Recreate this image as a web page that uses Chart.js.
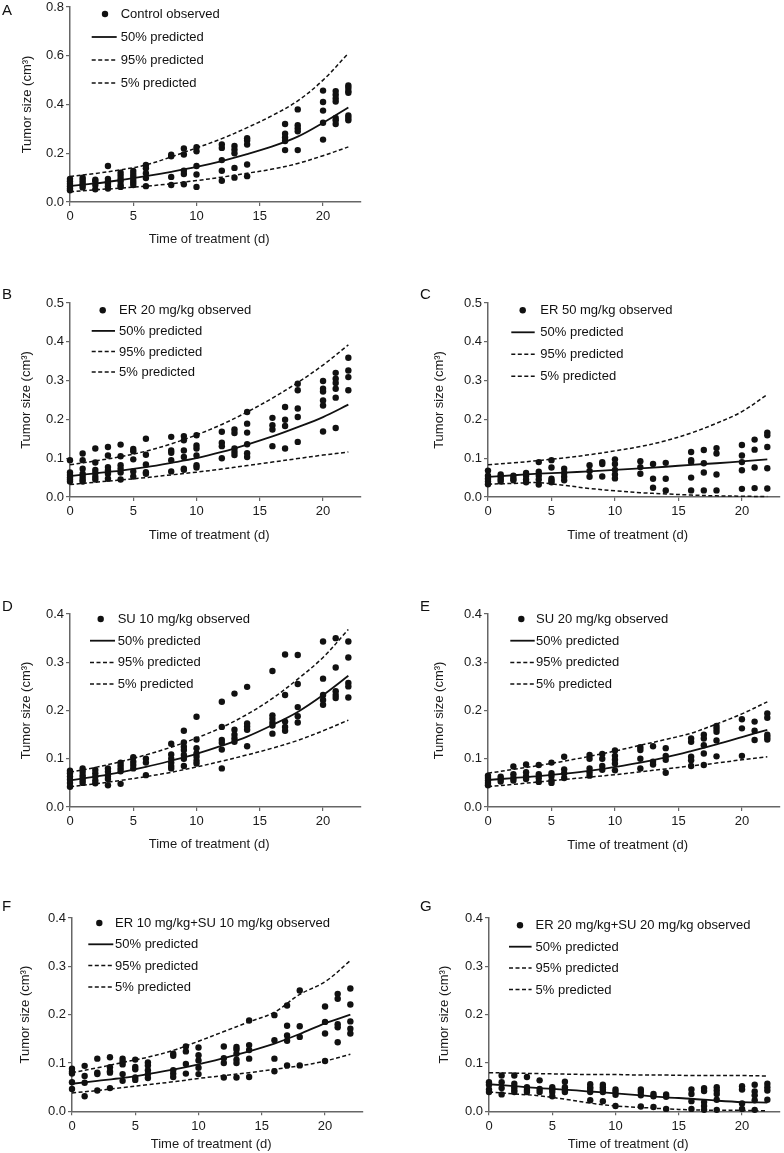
<!DOCTYPE html>
<html lang="en">
<head>
<meta charset="UTF-8">
<title>Tumor size vs time of treatment</title>
<style>
  body { margin: 0; background: #fff; }
  #page { position: relative; width: 784px; height: 1153px; overflow: hidden; background: #fff; }
  #page canvas { position: absolute; }
  .letter { position: absolute; font: 15px 'Liberation Sans', Arial, sans-serif; line-height: 15px; color: #111; }
</style>
</head>
<body>
<div id="page"></div>

<script src="https://cdn.jsdelivr.net/npm/chart.js@4.4.1/dist/chart.umd.min.js"></script>
<script>
// ---- data ----
const dayTicks = [0, 5, 10, 15, 20];
const lineDays = [0, 2, 4, 6, 8, 10, 12, 14, 16, 18, 20, 22];

// A - control
const obsDaysA = [0, 1, 2, 3, 4, 5, 6, 8, 9, 10, 12, 13, 14, 17, 18, 20, 21, 22];
const obsA = [
  [0.095, 0.085, 0.075, 0.065, 0.055, 0.048],
  [0.1, 0.09, 0.08, 0.07, 0.06],
  [0.092, 0.085, 0.07, 0.052],
  [0.148, 0.095, 0.085, 0.075, 0.065, 0.055],
  [0.12, 0.108, 0.095, 0.085, 0.07, 0.062],
  [0.127, 0.115, 0.104, 0.09, 0.08, 0.07],
  [0.152, 0.138, 0.118, 0.098, 0.065],
  [0.194, 0.188, 0.103, 0.07],
  [0.22, 0.195, 0.128, 0.115, 0.073],
  [0.225, 0.208, 0.148, 0.113, 0.062],
  [0.236, 0.222, 0.172, 0.128, 0.087],
  [0.23, 0.215, 0.2, 0.14, 0.1],
  [0.262, 0.252, 0.236, 0.154, 0.106],
  [0.32, 0.28, 0.265, 0.25, 0.213],
  [0.38, 0.315, 0.303, 0.29, 0.213],
  [0.457, 0.41, 0.375, 0.325, 0.256],
  [0.455, 0.44, 0.425, 0.412, 0.345, 0.335, 0.32],
  [0.478, 0.468, 0.455, 0.448, 0.355, 0.345, 0.335]
];
const p50A = [0.066, 0.076, 0.09, 0.106, 0.124, 0.144, 0.168, 0.196, 0.228, 0.268, 0.325, 0.388];
const p95A = [0.105, 0.117, 0.132, 0.152, 0.185, 0.222, 0.26, 0.305, 0.355, 0.415, 0.5, 0.61];
const p05A = [0.042, 0.05, 0.057, 0.065, 0.075, 0.088, 0.102, 0.118, 0.135, 0.158, 0.19, 0.226];

// days used by panels B-G
const obsDays = [0, 1, 2, 3, 4, 5, 6, 8, 9, 10, 12, 13, 14, 16, 17, 18, 20, 21, 22];

// B - ER 20 mg/kg
const obsB = [
  [0.095, 0.063, 0.057, 0.05, 0.045, 0.04],
  [0.112, 0.095, 0.073, 0.06, 0.052, 0.045, 0.04],
  [0.125, 0.089, 0.07, 0.062, 0.052, 0.045],
  [0.129, 0.107, 0.077, 0.069, 0.06, 0.047],
  [0.135, 0.105, 0.082, 0.073, 0.063, 0.045],
  [0.124, 0.118, 0.097, 0.066, 0.053],
  [0.15, 0.109, 0.084, 0.064, 0.06],
  [0.155, 0.12, 0.114, 0.095, 0.066],
  [0.157, 0.146, 0.12, 0.103, 0.073, 0.07],
  [0.159, 0.133, 0.125, 0.107, 0.082, 0.076],
  [0.168, 0.14, 0.131, 0.1],
  [0.174, 0.165, 0.125, 0.116, 0.108],
  [0.219, 0.189, 0.166, 0.136, 0.113, 0.103],
  [0.204, 0.185, 0.174, 0.131],
  [0.232, 0.199, 0.183, 0.125],
  [0.292, 0.275, 0.228, 0.206, 0.142],
  [0.299, 0.279, 0.272, 0.249, 0.236, 0.169],
  [0.32, 0.305, 0.294, 0.279, 0.256, 0.178],
  [0.359, 0.326, 0.309, 0.275]
];
const p50B = [0.054, 0.061, 0.068, 0.077, 0.088, 0.1, 0.116, 0.135, 0.156, 0.18, 0.206, 0.238];
const p95B = [0.083, 0.093, 0.104, 0.118, 0.137, 0.16, 0.187, 0.219, 0.255, 0.295, 0.34, 0.392];
const p05B = [0.032, 0.038, 0.044, 0.05, 0.057, 0.064, 0.072, 0.081, 0.09, 0.099, 0.108, 0.116];

// C - ER 50 mg/kg
const obsC = [
  [0.068, 0.055, 0.047, 0.04, 0.033],
  [0.058, 0.052, 0.046, 0.04],
  [0.055, 0.048, 0.043],
  [0.062, 0.055, 0.045, 0.038],
  [0.09, 0.065, 0.055, 0.045, 0.032],
  [0.095, 0.076, 0.047, 0.042, 0.038],
  [0.073, 0.062, 0.052, 0.043],
  [0.082, 0.067, 0.052],
  [0.09, 0.085, 0.053],
  [0.097, 0.085, 0.07, 0.058, 0.048],
  [0.092, 0.077, 0.06],
  [0.085, 0.047, 0.024],
  [0.088, 0.047, 0.017],
  [0.116, 0.095, 0.09, 0.05, 0.017],
  [0.121, 0.087, 0.063, 0.017],
  [0.126, 0.112, 0.058, 0.017],
  [0.134, 0.107, 0.09, 0.069, 0.021],
  [0.148, 0.122, 0.076, 0.023],
  [0.166, 0.159, 0.129, 0.074, 0.022]
];
const p50C = [0.052, 0.056, 0.06, 0.063, 0.066, 0.07, 0.074, 0.078, 0.083, 0.087, 0.092, 0.097];
const p95C = [0.083, 0.088, 0.094, 0.101, 0.109, 0.119, 0.13, 0.145, 0.165, 0.19, 0.22, 0.264];
const p05C = [0.033, 0.035, 0.037, 0.03, 0.022, 0.016, 0.011, 0.008, 0.005, 0.003, 0.002, 0.001];

// D - SU 10 mg/kg
const obsD = [
  [0.075, 0.07, 0.063, 0.057, 0.05, 0.042],
  [0.08, 0.073, 0.066, 0.06, 0.055, 0.05],
  [0.077, 0.07, 0.063, 0.055, 0.049],
  [0.08, 0.073, 0.064, 0.058, 0.045],
  [0.092, 0.086, 0.08, 0.074, 0.048],
  [0.103, 0.094, 0.087, 0.08],
  [0.1, 0.092, 0.066],
  [0.131, 0.109, 0.1, 0.092, 0.085, 0.08],
  [0.158, 0.134, 0.125, 0.118, 0.108, 0.1, 0.085],
  [0.187, 0.14, 0.122, 0.111, 0.104, 0.096, 0.09],
  [0.218, 0.166, 0.139, 0.133, 0.119, 0.08],
  [0.235, 0.16, 0.15, 0.142, 0.135],
  [0.249, 0.173, 0.167, 0.16, 0.126],
  [0.282, 0.19, 0.183, 0.175, 0.169, 0.152],
  [0.316, 0.232, 0.177, 0.166, 0.158],
  [0.315, 0.255, 0.207, 0.188, 0.175],
  [0.343, 0.266, 0.232, 0.222, 0.212],
  [0.35, 0.289, 0.24, 0.232, 0.226],
  [0.343, 0.31, 0.257, 0.25, 0.227]
];
const p50D = [0.055, 0.063, 0.072, 0.083, 0.096, 0.11, 0.127, 0.146, 0.17, 0.197, 0.232, 0.272];
const p95D = [0.072, 0.082, 0.094, 0.108, 0.124, 0.143, 0.165, 0.192, 0.225, 0.265, 0.31, 0.368];
const p05D = [0.042, 0.048, 0.055, 0.063, 0.072, 0.083, 0.095, 0.108, 0.122, 0.138, 0.158, 0.18];

// E - SU 20 mg/kg
const obsE = [
  [0.065, 0.06, 0.055, 0.05, 0.045],
  [0.063, 0.058, 0.053],
  [0.084, 0.068, 0.06, 0.055],
  [0.088, 0.072, 0.064, 0.058],
  [0.087, 0.068, 0.06, 0.052],
  [0.092, 0.07, 0.064, 0.055, 0.05],
  [0.104, 0.078, 0.07, 0.06],
  [0.108, 0.1, 0.08, 0.072, 0.065],
  [0.11, 0.1, 0.085, 0.077],
  [0.117, 0.106, 0.098, 0.09, 0.076],
  [0.124, 0.118, 0.1, 0.08],
  [0.126, 0.094, 0.088],
  [0.122, 0.106, 0.098, 0.071],
  [0.142, 0.135, 0.104, 0.097, 0.085],
  [0.15, 0.142, 0.128, 0.111, 0.087],
  [0.168, 0.162, 0.156, 0.138, 0.105],
  [0.182, 0.163, 0.106],
  [0.177, 0.158, 0.139],
  [0.194, 0.185, 0.15, 0.145, 0.14]
];
const p50E = [0.056, 0.06, 0.064, 0.069, 0.075, 0.083, 0.092, 0.103, 0.116, 0.13, 0.145, 0.16];
const p95E = [0.07, 0.078, 0.086, 0.095, 0.105, 0.116, 0.128, 0.14, 0.153, 0.172, 0.193, 0.218];
const p05E = [0.042, 0.047, 0.052, 0.057, 0.062, 0.067, 0.073, 0.079, 0.085, 0.091, 0.098, 0.104];

// F - ER 10 + SU 10
const obsF = [
  [0.088, 0.082, 0.078, 0.06, 0.046],
  [0.094, 0.073, 0.059, 0.031],
  [0.109, 0.08, 0.077, 0.043],
  [0.112, 0.091, 0.083, 0.08, 0.048],
  [0.109, 0.103, 0.097, 0.077, 0.063],
  [0.107, 0.092, 0.087, 0.07, 0.065],
  [0.101, 0.095, 0.085, 0.077, 0.069],
  [0.119, 0.115, 0.085, 0.078, 0.071],
  [0.134, 0.124, 0.098, 0.078],
  [0.132, 0.116, 0.105, 0.09, 0.077],
  [0.134, 0.11, 0.1, 0.07],
  [0.133, 0.128, 0.119, 0.107, 0.1, 0.07],
  [0.188, 0.137, 0.127, 0.109, 0.071],
  [0.199, 0.147, 0.109, 0.083],
  [0.219, 0.177, 0.157, 0.146, 0.095],
  [0.25, 0.176, 0.154, 0.095],
  [0.217, 0.185, 0.161, 0.104],
  [0.243, 0.233, 0.18, 0.174, 0.143],
  [0.254, 0.221, 0.186, 0.171, 0.161]
];
const p50F = [0.057, 0.063, 0.069, 0.077, 0.086, 0.097, 0.11, 0.124, 0.14, 0.16, 0.182, 0.2];
const p95F = [0.08, 0.09, 0.101, 0.112, 0.126, 0.145, 0.165, 0.185, 0.205, 0.242, 0.268, 0.312];
const p05F = [0.038, 0.043, 0.049, 0.055, 0.061, 0.068, 0.074, 0.08, 0.087, 0.094, 0.104, 0.118];

// G - ER 20 + SU 20
const obsG = [
  [0.06, 0.055, 0.045, 0.04],
  [0.074, 0.06, 0.048, 0.035],
  [0.074, 0.057, 0.05, 0.044, 0.04],
  [0.071, 0.05, 0.044, 0.04],
  [0.064, 0.046, 0.04],
  [0.05, 0.045, 0.04, 0.031],
  [0.061, 0.05, 0.044, 0.04],
  [0.056, 0.05, 0.046, 0.04, 0.023],
  [0.055, 0.05, 0.045, 0.04, 0.021],
  [0.045, 0.04, 0.034, 0.011],
  [0.045, 0.04, 0.033, 0.01],
  [0.036, 0.031, 0.009],
  [0.035, 0.03, 0.005],
  [0.045, 0.036, 0.021, 0.005],
  [0.048, 0.042, 0.019, 0.011, 0.003],
  [0.05, 0.043, 0.036, 0.024, 0.003],
  [0.052, 0.045, 0.016, 0.005],
  [0.055, 0.041, 0.033, 0.023, 0.003],
  [0.057, 0.05, 0.043, 0.024]
];
const p50G = [0.056, 0.052, 0.048, 0.045, 0.041, 0.037, 0.033, 0.029, 0.026, 0.022, 0.019, 0.018];
const p95G = [0.08, 0.079, 0.078, 0.077, 0.076, 0.076, 0.075, 0.075, 0.074, 0.074, 0.074, 0.073];
const p05G = [0.04, 0.036, 0.032, 0.025, 0.017, 0.011, 0.008, 0.005, 0.003, 0.002, 0.002, 0.001];

// ---- layout of the seven panels (plot area = [left, top, right, bottom] in page px) ----
const panels = [
  { letter: 'A', at: [2, 2], label: 'Control observed', days: obsDaysA, obs: obsA, p50: p50A, p95: p95A, p05: p05A,
    yMax: 0.8, yStep: 0.2, area: [70, 7, 363, 202], yTitleOff: 43, xTitleOff: 37,
    legend: { top: 7, gap: 23, dot: 35, line: [21.7, 46.7], text: 50.7 } },
  { letter: 'B', at: [2, 286], label: 'ER 20 mg/kg observed', days: obsDays, obs: obsB, p50: p50B, p95: p95B, p05: p05B,
    yMax: 0.5, yStep: 0.1, area: [70, 302.7, 363, 496.7], yTitleOff: 43.3, xTitleOff: 38,
    legend: { top: 7.3, gap: 20.6, dot: 32.7, line: [21.7, 45], text: 49 } },
  { letter: 'C', at: [420, 286], label: 'ER 50 mg/kg observed', days: obsDays, obs: obsC, p50: p50C, p95: p95C, p05: p05C,
    yMax: 0.5, yStep: 0.1, area: [488, 302.7, 782, 496.7], yTitleOff: 48.3, xTitleOff: 38,
    legend: { top: 7.3, gap: 22, dot: 34.7, line: [23.3, 46.7], text: 52.3 } },
  { letter: 'D', at: [2, 598], label: 'SU 10 mg/kg observed', days: obsDays, obs: obsD, p50: p50D, p95: p95D, p05: p05D,
    yMax: 0.4, yStep: 0.1, area: [70, 614, 363, 807], yTitleOff: 43.3, xTitleOff: 37,
    legend: { top: 5, gap: 21.7, dot: 30.7, line: [20, 45], text: 47.7 } },
  { letter: 'E', at: [420, 598], label: 'SU 20 mg/kg observed', days: obsDays, obs: obsE, p50: p50E, p95: p95E, p05: p05E,
    yMax: 0.4, yStep: 0.1, area: [488, 614, 782, 807], yTitleOff: 48.3, xTitleOff: 38,
    legend: { top: 5, gap: 21.7, dot: 33.3, line: [22.3, 46.7], text: 48 } },
  { letter: 'F', at: [2, 898], label: 'ER 10 mg/kg+SU 10 mg/kg observed', days: obsDays, obs: obsF, p50: p50F, p95: p95F, p05: p05F,
    yMax: 0.4, yStep: 0.1, area: [72, 917.7, 365, 1111], yTitleOff: 47, xTitleOff: 33.5,
    legend: { top: 5, gap: 21.3, dot: 27.3, line: [16.3, 41.3], text: 43 } },
  { letter: 'G', at: [420, 898], label: 'ER 20 mg/kg+SU 20 mg/kg observed', days: obsDays, obs: obsG, p50: p50G, p95: p95G, p05: p05G,
    yMax: 0.4, yStep: 0.1, area: [488.7, 917.7, 782, 1111], yTitleOff: 45, xTitleOff: 33,
    legend: { top: 7.3, gap: 21.4, dot: 31, line: [20, 42.6], text: 46.6 } }
];

const FONT = "'Liberation Sans', Arial, Helvetica, sans-serif";
const INK = '#111';
const TEXT = '#1a1a1a';
const AXIS = '#666';
const YW = 70, XH = 50, PAD_TOP = 14, PAD_RIGHT = 2;
const HALF_LH = 13 * 1.2 / 2;

Chart.defaults.font.family = FONT;
Chart.defaults.font.size = 13;
Chart.defaults.color = TEXT;

// legend drawn inside the plot area, top left
const insideLegend = {
  id: 'insideLegend',
  afterDatasetsDraw(chart, args, opts) {
    if (!opts || opts.top === undefined) return;
    const { ctx, chartArea } = chart;
    const x0 = chartArea.left, y0 = chartArea.top;
    ctx.save();
    ctx.font = '13px ' + FONT;
    ctx.textBaseline = 'middle';
    chart.data.datasets.forEach((ds, i) => {
      const y = y0 + opts.top + i * opts.gap;
      ctx.fillStyle = INK;
      ctx.strokeStyle = INK;
      if (ds.showLine) {
        ctx.lineWidth = ds.borderWidth;
        ctx.setLineDash(ds.borderDash || []);
        ctx.beginPath();
        ctx.moveTo(x0 + opts.line[0], y);
        ctx.lineTo(x0 + opts.line[1], y);
        ctx.stroke();
        ctx.setLineDash([]);
      } else {
        ctx.beginPath();
        ctx.arc(x0 + opts.dot, y, ds.pointRadius, 0, Math.PI * 2);
        ctx.fill();
      }
      ctx.fillText(ds.label, x0 + opts.text, y + 0.5);
    });
    ctx.restore();
  }
};

// x axis title centred under the 0-22 day span, as in the figure
const dayTitle = {
  id: 'dayTitle',
  afterDraw(chart, args, opts) {
    if (!opts || !opts.text) return;
    const { ctx, chartArea, scales } = chart;
    ctx.save();
    ctx.font = '13px ' + FONT;
    ctx.fillStyle = TEXT;
    ctx.textAlign = 'center';
    ctx.textBaseline = 'middle';
    ctx.fillText(opts.text, scales.x.getPixelForValue(opts.centre), chartArea.bottom + opts.offset);
    ctx.restore();
  }
};
Chart.register(insideLegend, dayTitle);

const page = document.getElementById('page');

function lineSet(label, values, dashed) {
  return {
    label: label,
    data: lineDays.map((d, i) => ({ x: d, y: values[i] })),
    showLine: true,
    borderColor: INK,
    borderWidth: dashed ? 1.5 : 1.8,
    borderDash: dashed ? [4, 2.5] : [],
    pointRadius: 0,
    tension: 0.35,
    clip: false
  };
}

function addPanel(p) {
  const [l, t, r, b] = p.area;
  const box = { x: l - YW, y: t - PAD_TOP };
  box.w = Math.round(r + PAD_RIGHT - box.x);
  box.h = Math.round(b + XH - box.y);

  const canvas = document.createElement('canvas');
  canvas.width = box.w;
  canvas.height = box.h;
  canvas.style.left = box.x + 'px';
  canvas.style.top = box.y + 'px';
  page.appendChild(canvas);

  const letter = document.createElement('div');
  letter.className = 'letter';
  letter.textContent = p.letter;
  letter.style.left = p.at[0] + 'px';
  letter.style.top = p.at[1] + 'px';
  page.appendChild(letter);

  const points = p.obs.flatMap((vals, i) => vals.map(v => ({ x: p.days[i], y: v })));

  new Chart(canvas.getContext('2d'), {
    type: 'scatter',
    data: {
      datasets: [
        { label: p.label, data: points, pointRadius: 3.2, pointBackgroundColor: INK,
          pointBorderWidth: 0, showLine: false, clip: false },
        lineSet('50% predicted', p.p50, false),
        lineSet('95% predicted', p.p95, true),
        lineSet('5% predicted', p.p05, true)
      ]
    },
    options: {
      responsive: false,
      animation: false,
      events: [],
      layout: { padding: { left: 0, top: t - box.y, right: box.x + box.w - r, bottom: 0 } },
      plugins: {
        legend: { display: false },
        tooltip: { enabled: false },
        insideLegend: p.legend,
        dayTitle: { text: 'Time of treatment (d)', centre: 11, offset: p.xTitleOff }
      },
      scales: {
        x: {
          type: 'linear',
          min: 0,
          max: 23,
          bounds: 'data',
          afterBuildTicks: s => { s.ticks = dayTicks.map(v => ({ value: v })); },
          afterFit: s => { s.height = box.y + box.h - b; },
          ticks: { padding: 3, color: TEXT, font: { size: 13 } },
          grid: { display: true, drawOnChartArea: false, drawTicks: true, tickLength: 4, color: AXIS, lineWidth: 1.2 },
          border: { display: true, color: AXIS, width: 1.5 },
          title: { display: false }
        },
        y: {
          type: 'linear',
          min: 0,
          max: p.yMax,
          afterFit: s => { s.width = l - box.x; },
          ticks: { stepSize: p.yStep, padding: 2, color: TEXT, font: { size: 13 },
                   callback: v => Number(v).toFixed(1) },
          grid: { display: true, drawOnChartArea: false, drawTicks: true, tickLength: 4, color: AXIS, lineWidth: 1.2 },
          border: { display: true, color: AXIS, width: 1.5 },
          title: { display: true, text: 'Tumor size (cm³)', color: TEXT, font: { size: 13 },
                   padding: { top: YW - p.yTitleOff - HALF_LH, bottom: 0 } }
        }
      }
    }
  });
}

panels.forEach(addPanel);
</script>
</body>
</html>
